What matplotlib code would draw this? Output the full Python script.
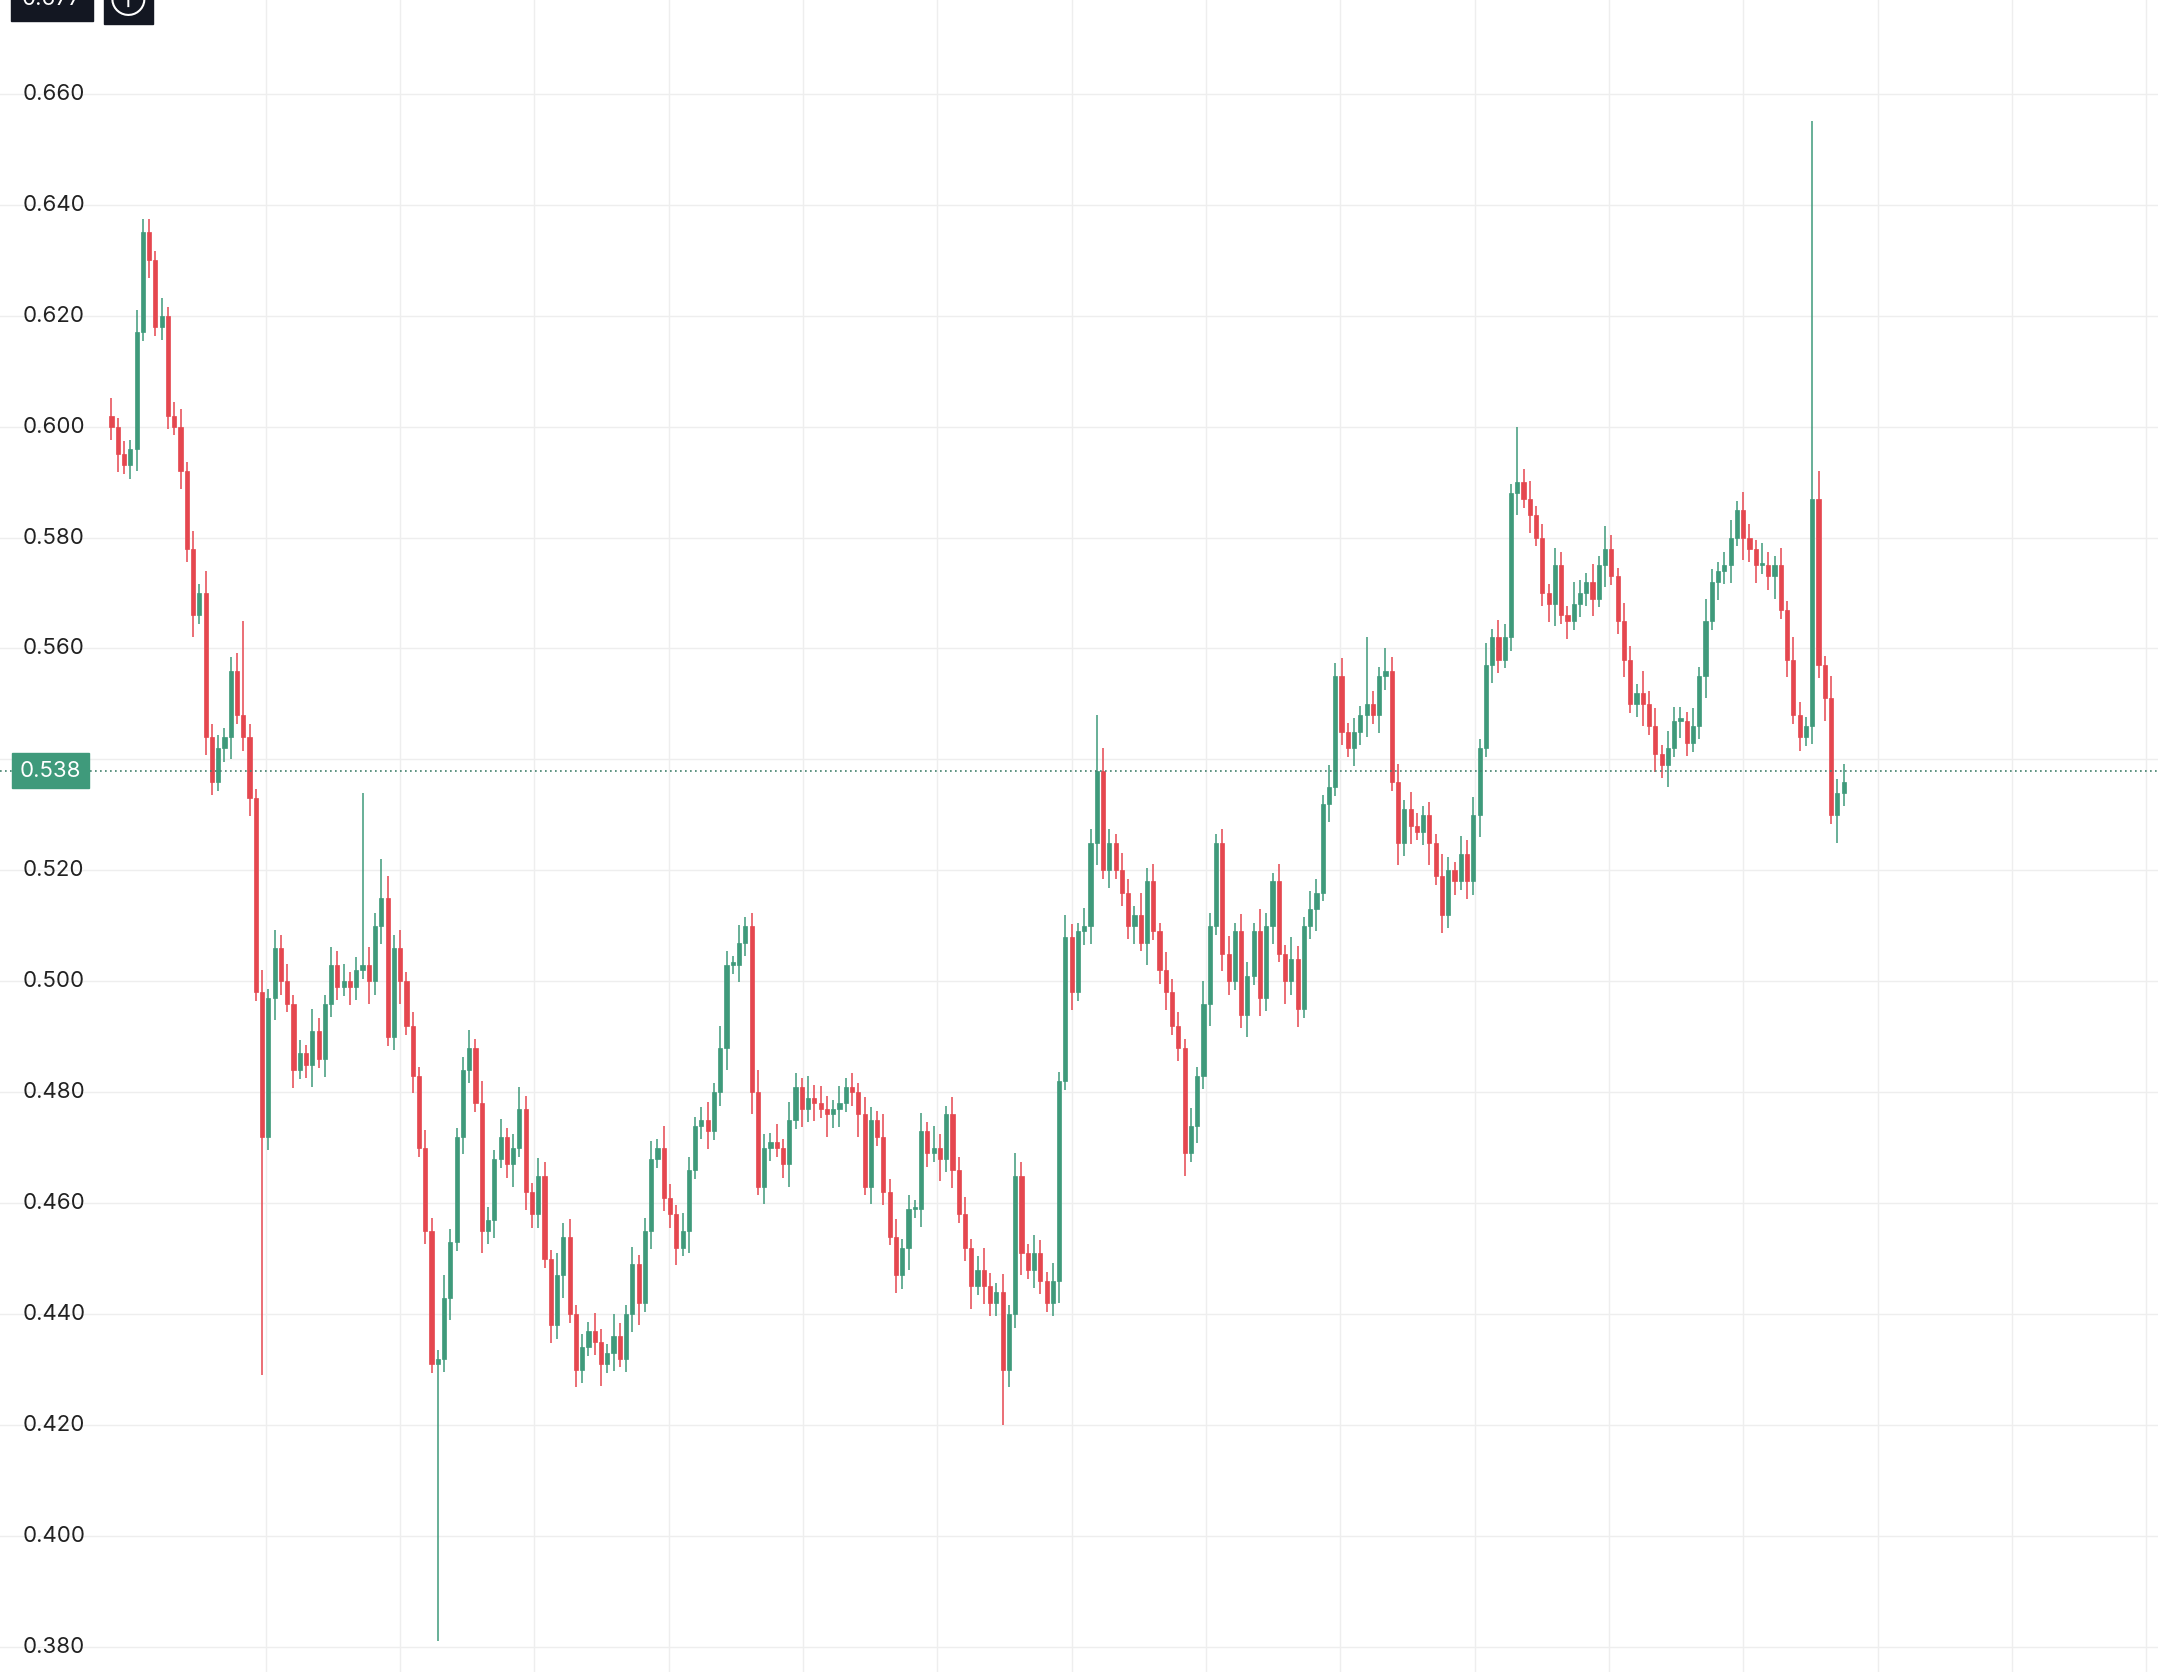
import matplotlib
matplotlib.use("Agg")
import matplotlib.pyplot as plt
from matplotlib.patches import Rectangle

closes = [0.600,0.595,0.593,0.596,0.617,0.635,0.630,0.618,0.620,0.602,0.600,0.592,0.578,0.566,0.570,0.544,
0.536,0.542,0.544,0.556,0.548,0.544,0.533,0.498,0.472,0.497,0.506,0.500,0.496,0.484,0.487,0.485,0.491,0.486,0.496,0.503,
0.499,0.500,0.499,0.502,0.503,0.500,0.510,0.515,0.490,0.506,0.500,0.492,0.483,0.470,0.455,0.431,0.432,0.443,0.453,0.472,
0.484,0.488,0.478,0.455,0.457,0.468,0.472,0.467,0.470,0.477,0.462,0.458,0.465,0.450,0.438,0.447,0.454,0.440,0.430,0.434,
0.437,0.435,0.431,0.433,0.436,0.432,0.440,0.449,0.442,0.455,0.468,0.470,0.461,0.458,0.452,0.455,0.466,0.474,0.475,0.473,0.480,0.488,
0.503,0.503,0.507,0.510,0.480,0.463,0.470,0.471,0.470,0.467,0.475,0.481,0.477,0.479,0.478,0.477,0.476,0.477,0.478,0.481,0.480,0.476,
0.463,0.475,0.472,0.462,0.454,0.447,0.452,0.459,0.459,0.473,0.469,0.470,0.468,0.476,0.466,0.458,0.452,0.445,0.448,0.445,
0.442,0.444,0.430,0.440,0.465,0.451,0.448,0.451,0.446,0.442,0.446,0.482,0.508,0.498,0.509,0.510,0.525,0.538,0.520,0.525,
0.520,0.516,0.510,0.512,0.507,0.518,0.509,0.502,0.498,0.492,0.488,0.469,0.474,0.483,0.496,0.510,0.525,0.505,0.500,0.509,
0.494,0.501,0.509,0.497,0.510,0.518,0.505,0.500,0.504,0.495,0.510,0.513,0.516,0.532,0.535,0.555,0.545,0.542,0.545,0.548,
0.550,0.548,0.555,0.556,0.536,0.525,0.531,0.528,0.527,0.530,0.525,0.519,0.512,0.520,0.518,0.523,0.518,0.530,0.542,0.557,
0.562,0.558,0.562,0.588,0.590,0.587,0.584,0.580,0.570,0.568,0.575,0.566,0.565,0.568,0.570,0.572,0.569,0.575,0.578,0.573,
0.565,0.558,0.550,0.552,0.550,0.546,0.541,0.539,0.542,0.547,0.547,0.543,0.546,0.555,0.565,0.572,0.574,0.575,0.580,0.585,
0.580,0.578,0.575,0.575,0.573,0.575,0.567,0.558,0.548,0.544,0.546,0.587,0.557,0.551,0.530,0.534,0.536]
first_open = 0.602
# wick extensions in thousandths, read per candle
upper_wicks = ("4232533242342425332343325243423253243423243253423243253234253242353243"
               "2534232432532423425324323425324235324243253432423243253423242532434235"
               "3242532432425324325324325342433242532342432532425324325342324325342432"
               "3253243425243253423243253242532432534243324253234243253242532432534232")
lower_wicks = ("3423524233243524323523424353242352433243253423524232435243253423524332"
               "4352432352423452423342523423524352432352434253423524232435243253423524"
               "3324352432352423452423342523423524352432352434253423524232435243253423"
               "5243324352432352423452423342523423524352432352434253423524232435243253")
# notable wicks: candle index -> (high, low)
special = {21: (0.565, None), 24: (None, 0.429), 40: (0.534, None), 43: (0.522, None),
           52: (None, 0.381), 142: (None, 0.420), 157: (0.548, None), 200: (0.562, None),
           224: (0.600, None), 271: (0.655, None), 272: (0.592, None), 275: (None, 0.525)}
yticks = [0.380,0.400,0.420,0.440,0.460,0.480,0.500,0.520,0.540,0.560,0.580,0.600,0.620,0.640,0.660]
last_price = 0.538
cross_price = 0.677

GREEN = '#3f9a7b'
RED = '#e5474f'
plt.rcParams['font.family'] = ['Inter', 'DejaVu Sans']

fig = plt.figure(figsize=(21.58, 16.72), dpi=100)
ax = fig.add_axes([0, 0, 1, 1])
W = 1568.0
step = 4.56
x0 = 81.0
ax.set_xlim(-x0/step, (W - x0)/step)
ax.set_ylim(0.3755, 0.6769)
for s in ax.spines.values():
    s.set_visible(False)
ax.set_xticks([]); ax.set_yticks([])

for v in yticks:
    ax.axhline(v, color='#eeeeee', lw=1.0, zorder=0)
g = (193 - x0)/step
while g < (W - x0)/step:
    ax.axvline(g, color='#eeeeee', lw=1.0, zorder=0)
    g += 97.6/step

o = first_open
for i, c in enumerate(closes):
    hi = max(o, c) + int(upper_wicks[i]) * 0.0008
    lo = min(o, c) - int(lower_wicks[i]) * 0.0008
    if i in special:
        h2, l2 = special[i]
        if h2 is not None: hi = h2
        if l2 is not None: lo = l2
    col = GREEN if c >= o else RED
    ax.plot([i, i], [lo, hi], color=col, lw=1.1, zorder=2, solid_capstyle='butt')
    bot = min(o, c); h = max(abs(c - o), 0.0004)
    ax.add_patch(Rectangle((i - 0.33, bot), 0.66, h, facecolor=col, edgecolor=col, lw=0.5, zorder=3))
    o = c

ax.axhline(last_price, color='#3f7f6a', lw=1.2, ls=(0, (1, 2)), zorder=4)

for v in yticks:
    if abs(v - 0.540) < 1e-9:
        continue
    ax.text(0.0105, v, f"{v:.3f}", transform=ax.get_yaxis_transform(), fontsize=16,
            color='#222222', va='center', ha='left')
ax.text(0.0235, last_price, f"{last_price:.3f}", transform=ax.get_yaxis_transform(), fontsize=16,
        color='white', va='center', ha='center',
        bbox=dict(boxstyle='square,pad=0.35', fc=GREEN, ec=GREEN), zorder=6)
ax.text(0.024, cross_price, f"{cross_price:.3f}", transform=ax.get_yaxis_transform(), fontsize=16,
        color='white', va='center', ha='center',
        bbox=dict(boxstyle='square,pad=0.5', fc='#131722', ec='#131722'), zorder=6)
ax.text(0.0595, cross_price, "⊕", transform=ax.get_yaxis_transform(), fontsize=18,
        color='white', va='center', ha='center',
        bbox=dict(boxstyle='square,pad=0.3', fc='#131722', ec='#131722'), zorder=6)

fig.savefig("out.png", dpi=100, facecolor='white')
